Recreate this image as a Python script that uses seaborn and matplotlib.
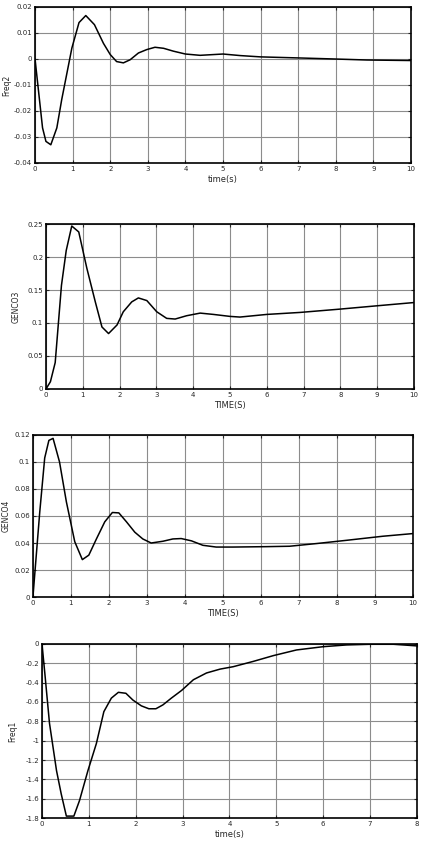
import matplotlib
matplotlib.use("Agg")
from matplotlib import pyplot as plt
import seaborn as sns

# Freq2 response (top panel)
t_freq2 = [0, 0.2, 0.29, 0.42, 0.58, 0.71, 0.98, 1.17, 1.35, 1.58, 1.82, 2.0, 2.17, 2.35,
           2.53, 2.75, 2.97, 3.19, 3.42, 3.68, 4.0, 4.39, 5.0, 5.46, 6.0, 7.0, 7.94, 8.83, 10.0]
freq2 = [0, -0.0265, -0.0317, -0.033, -0.0265, -0.0156, 0.0042, 0.014, 0.0167, 0.0132, 0.006,
         0.0017, -0.001, -0.0015, -0.0003, 0.0023, 0.0036, 0.0045, 0.0041, 0.003, 0.0019, 0.0014,
         0.0019, 0.0013, 0.0008, 0.0004, 0.0, -0.0004, -0.0006]

# GENCO3 output
t_genco3 = [0, 0.12, 0.25, 0.42, 0.55, 0.7, 0.89, 1.11, 1.34, 1.52, 1.7, 1.93, 2.1, 2.33, 2.51,
            2.74, 3.01, 3.28, 3.51, 3.82, 4.19, 4.55, 5.0, 5.27, 6.0, 6.9, 7.98, 8.98, 10.0]
genco3 = [0, 0.011, 0.04, 0.157, 0.21, 0.247, 0.238, 0.183, 0.132, 0.094, 0.084, 0.097, 0.117,
          0.132, 0.138, 0.134, 0.117, 0.107, 0.106, 0.111, 0.115, 0.113, 0.110, 0.109, 0.113,
          0.116, 0.121, 0.126, 0.131]

# GENCO4 output
t_genco4 = [0, 0.18, 0.31, 0.42, 0.53, 0.7, 0.88, 1.1, 1.3, 1.47, 1.67, 1.89, 2.09, 2.26, 2.46,
            2.68, 2.89, 3.11, 3.42, 3.68, 3.9, 4.17, 4.47, 4.82, 5.26, 6.14, 6.75, 7.46, 8.25,
            9.2, 10.0]
genco4 = [0, 0.063, 0.103, 0.116, 0.1175, 0.1, 0.0705, 0.041, 0.0277, 0.031, 0.043, 0.0557,
          0.0626, 0.0623, 0.0557, 0.048, 0.043, 0.040, 0.0413, 0.043, 0.0433, 0.0416, 0.0383,
          0.037, 0.037, 0.0373, 0.0376, 0.0396, 0.042, 0.045, 0.047]

# Freq1 response (bottom panel)
t_freq1 = [0, 0.06, 0.16, 0.31, 0.41, 0.52, 0.68, 0.8, 0.98, 1.16, 1.32, 1.48, 1.63, 1.79, 1.94,
           2.12, 2.28, 2.43, 2.58, 2.76, 2.98, 3.23, 3.51, 3.8, 4.08, 4.51, 4.94, 5.43, 6.0,
           6.5, 7.0, 7.5, 8.0]
freq1 = [0, -0.30, -0.82, -1.31, -1.55, -1.78, -1.78, -1.62, -1.31, -1.03, -0.70, -0.56, -0.50,
         -0.51, -0.58, -0.64, -0.67, -0.67, -0.63, -0.56, -0.48, -0.37, -0.30, -0.26, -0.235,
         -0.18, -0.12, -0.062, -0.028, -0.01, -0.003, -0.003, -0.02]

panels = [
    dict(t=t_freq2, y=freq2, xlim=(0, 10), ylim=(-0.04, 0.02), step=0.01, xlabel='time(s)',
         ylabel='Freq2', rect=[0.083, 0.8105, 0.891, 0.1814], ylx=-0.062),
    dict(t=t_genco3, y=genco3, xlim=(0, 10), ylim=(0, 0.25), step=0.05, xlabel='TIME(S)',
         ylabel='GENCO3', rect=[0.109, 0.5477, 0.872, 0.1918], ylx=-0.07),
    dict(t=t_genco4, y=genco4, xlim=(0, 10), ylim=(0, 0.12), step=0.02, xlabel='TIME(S)',
         ylabel='GENCO4', rect=[0.078, 0.3058, 0.901, 0.1884], ylx=-0.058),
    dict(t=t_freq1, y=freq1, xlim=(0, 8), ylim=(-1.8, 0), step=0.2, xlabel='time(s)',
         ylabel='Freq1', rect=[0.0995, 0.0488, 0.8885, 0.2024], ylx=-0.065),
]

sns.set_style('ticks')
plt.rcParams['font.family'] = ['DejaVu Sans']

fig = plt.figure(figsize=(4.22, 8.6), dpi=100)

for p in panels:
    ax = fig.add_axes(p['rect'])
    sns.lineplot(x=p['t'], y=p['y'], ax=ax, color='black', linewidth=1.1, estimator=None)
    ax.set_xlim(*p['xlim'])
    ax.set_ylim(*p['ylim'])
    ax.set_xticks(range(int(p['xlim'][0]), int(p['xlim'][1]) + 1))
    lo, hi = p['ylim']
    n = int(round((hi - lo) / p['step']))
    yt = [round(lo + i * p['step'], 4) for i in range(n + 1)]
    ax.set_yticks(yt)
    ax.set_yticklabels(['{:g}'.format(v) for v in yt])
    ax.grid(True, color='#8c8c8c', linewidth=0.8)
    ax.tick_params(direction='in', length=2, labelsize=5, pad=2, top=True, right=True)
    for s in ax.spines.values():
        s.set_linewidth(1.2)
        s.set_color('black')
    ax.set_xlabel(p['xlabel'], fontsize=6, labelpad=2)
    ax.set_ylabel(p['ylabel'], fontsize=5.5)
    ax.yaxis.set_label_coords(p['ylx'], 0.5)

plt.savefig('out.png', dpi=100)
